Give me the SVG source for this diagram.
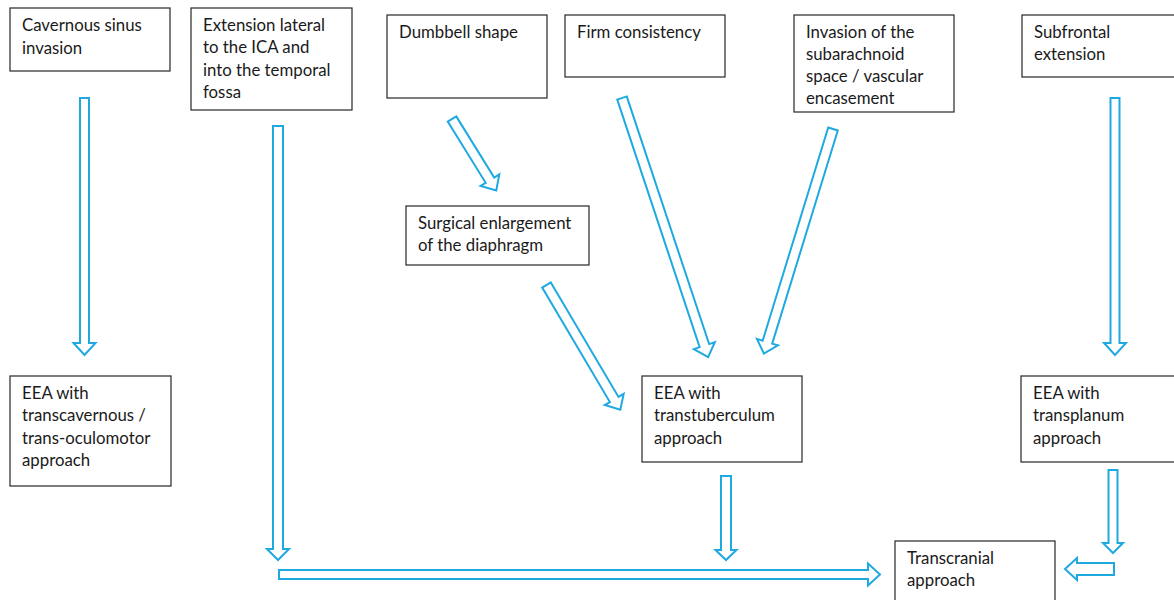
<svg xmlns="http://www.w3.org/2000/svg" width="1174" height="600" viewBox="0 0 1174 600">
<style>
.box{fill:#fff;stroke:#262626;stroke-width:1.2}
.t{font-family:Lato,"Open Sans","Liberation Sans",sans-serif;font-size:16.8px;fill:#1a1a1a}
.arr{fill:#fff;stroke:#1fa9e1;stroke-width:2;stroke-linejoin:miter}
</style>
<rect width="1174" height="600" fill="#fff"/>
<g id="n1"><rect class="box" x="10" y="8" width="160" height="63"/><text class="t" x="22" y="31">Cavernous sinus</text><text class="t" x="22" y="54">invasion</text></g>
<g id="n2"><rect class="box" x="191" y="8" width="161" height="102"/><text class="t" x="203" y="31">Extension lateral</text><text class="t" x="203" y="53">to the ICA and</text><text class="t" x="203" y="76">into the temporal</text><text class="t" x="203" y="98">fossa</text></g>
<g id="n3"><rect class="box" x="387" y="15" width="160" height="83"/><text class="t" x="399" y="38">Dumbbell shape</text></g>
<g id="n4"><rect class="box" x="565" y="15" width="160" height="62"/><text class="t" x="577" y="38">Firm consistency</text></g>
<g id="n5"><rect class="box" x="794" y="15" width="160" height="97"/><text class="t" x="806" y="38">Invasion of the</text><text class="t" x="806" y="60">subarachnoid</text><text class="t" x="806" y="82">space / vascular</text><text class="t" x="806" y="104">encasement</text></g>
<g id="n6"><rect class="box" x="1022" y="15" width="160" height="62"/><text class="t" x="1034" y="38">Subfrontal</text><text class="t" x="1034" y="60">extension</text></g>
<g id="n7"><rect class="box" x="406" y="206" width="183" height="59"/><text class="t" x="418" y="229">Surgical enlargement</text><text class="t" x="418" y="251">of the diaphragm</text></g>
<g id="n8"><rect class="box" x="10" y="376" width="161" height="110"/><text class="t" x="22" y="399">EEA with</text><text class="t" x="22" y="421">transcavernous /</text><text class="t" x="22" y="444">trans-oculomotor</text><text class="t" x="22" y="466">approach</text></g>
<g id="n9"><rect class="box" x="642" y="376" width="160" height="86"/><text class="t" x="654" y="399">EEA with</text><text class="t" x="654" y="421">transtuberculum</text><text class="t" x="654" y="444">approach</text></g>
<g id="n10"><rect class="box" x="1021" y="376" width="160" height="86"/><text class="t" x="1033" y="399">EEA with</text><text class="t" x="1033" y="421">transplanum</text><text class="t" x="1033" y="444">approach</text></g>
<g id="n11"><rect class="box" x="895" y="541" width="160" height="70"/><text class="t" x="907" y="564">Transcranial</text><text class="t" x="907" y="586">approach</text></g>
<g id="connectors">
<polygon class="arr" transform="translate(84.5,98) rotate(90)" points="0,-4.5 245,-4.5 245,-11 257,0 245,11 245,4.5 0,4.5"/>
<polygon class="arr" transform="translate(278,126) rotate(90)" points="0,-5 423,-5 423,-11 434,0 423,11 423,5 0,5"/>
<polygon class="arr" transform="translate(279,574.5) rotate(0)" points="0,-4.5 589,-4.5 589,-11 601,0 589,11 589,4.5 0,4.5"/>
<polygon class="arr" transform="translate(452,119) rotate(58.2)" points="0,-5 72,-5 72,-11 84,0 72,11 72,5 0,5"/>
<polygon class="arr" transform="translate(546.5,285) rotate(59.4)" points="0,-5 133,-5 133,-11 145,0 133,11 133,5 0,5"/>
<polygon class="arr" transform="translate(622,98) rotate(71.6)" points="0,-5 261,-5 261,-11 273,0 261,11 261,5 0,5"/>
<polygon class="arr" transform="translate(833,129) rotate(107.1)" points="0,-5 223,-5 223,-11 235,0 223,11 223,5 0,5"/>
<polygon class="arr" transform="translate(1115,98) rotate(90)" points="0,-4.5 245,-4.5 245,-11 257,0 245,11 245,4.5 0,4.5"/>
<polygon class="arr" transform="translate(726,476) rotate(90)" points="0,-5 74,-5 74,-10.5 84,0 74,10.5 74,5 0,5"/>
<polygon class="arr" transform="translate(1113,470) rotate(90)" points="0,-4.5 73,-4.5 73,-10 83,0 73,10 73,4.5 0,4.5"/>
<polygon class="arr" transform="translate(1114,569) rotate(180)" points="0,-6 37,-6 37,-11 49,0 37,11 37,6 0,6"/>
</g>
</svg>
